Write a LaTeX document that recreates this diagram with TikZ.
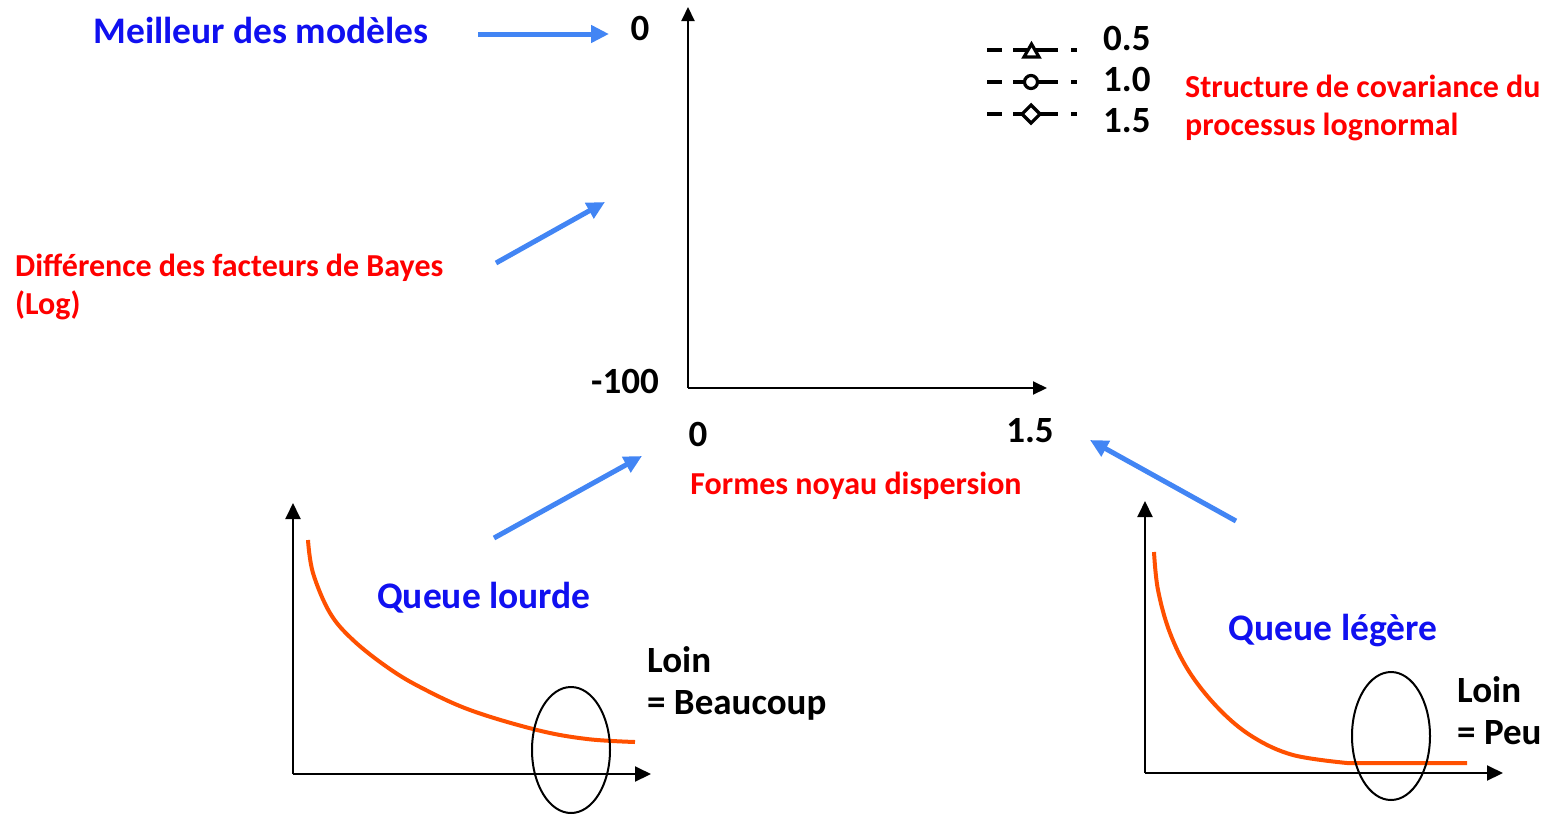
\documentclass[tikz,border=0pt]{standalone}
\usepackage{fontspec}
\setmainfont{Carlito}
\usetikzlibrary{arrows.meta}
\definecolor{txtblue}{RGB}{16,16,240}
\definecolor{arrblue}{RGB}{66,133,244}
\definecolor{txtred}{RGB}{255,0,0}
\definecolor{curveorange}{RGB}{255,80,0}
\tikzset{
  bigtxt/.style={font=\fontsize{37.5}{40}\selectfont\bfseries, inner sep=0pt},
  redtxt/.style={font=\fontsize{32}{37.5}\selectfont\bfseries, text=txtred, inner sep=0pt, align=left},
  numtxt/.style={font=\fontsize{37}{42}\selectfont\bfseries, inner sep=0pt},
  bluearrow/.style={draw=arrblue, line width=5pt, -{Triangle[length=18pt,width=17pt]}},
  axis/.style={draw=black, line width=2pt, -{Triangle[length=14pt,width=13pt]}},
  curve/.style={draw=curveorange, line width=4pt},
  ring/.style={draw=black, line width=2pt},
  legline/.style={draw=black, line width=3.5pt},
  legmark/.style={draw=black, line width=3.2pt, fill=white}
}
\begin{document}
\begin{tikzpicture}[x=1pt,y=-1pt]
\useasboundingbox (0,0) rectangle (1548,815);

% top labels
\node[bigtxt, text=txtblue] (best) at (261,30) {Meilleur des modèles};
\coordinate (bestA) at (478,34);
\coordinate (bestB) at (609,34);
\draw[bluearrow] (bestA) -- (bestB);
\node[numtxt] (y0) at (640,28) {0};
\node[numtxt] (ym100) at (625,381) {-100};
\node[numtxt] (x0) at (698,434) {0};
\node[numtxt] (x15) at (1030,431) {1.5};

% main axes
\coordinate (O) at (688,388);
\coordinate (Ytop) at (688,7);
\coordinate (Xend) at (1047,388);
\draw[axis] (O) -- (Ytop);
\draw[axis] (O) -- (Xend);

\node[redtxt, anchor=center] (xlab) at (856,486) {Formes noyau dispersion};
\node[redtxt, anchor=west] (ylab) at (15,287) {Différence des facteurs de Bayes\\(Log)};
\coordinate (ylA) at (496,263);
\coordinate (ylB) at (605,202);
\draw[bluearrow] (ylA) -- (ylB);

% legend
\foreach \yy/\lab/\ly/\nm in {50/0.5/38/a, 82/1.0/79/b, 114/1.5/121/c}{
  \draw[legline] (987,\yy) -- (1002,\yy);
  \draw[legline] (1013,\yy) -- (1058,\yy);
  \draw[legline] (1071,\yy) -- (1077,\yy);
  \node[numtxt, anchor=west] (leg\nm) at (1103,\ly) {\lab};
}
\draw[legmark] (1024,57) -- (1039,57) -- (1031.5,44) -- cycle;
\draw[legmark] (1031,82) circle (6.5pt);
\draw[legmark] (1031,105) -- (1040,114) -- (1031,123) -- (1022,114) -- cycle;
\node[redtxt, anchor=west] (struct) at (1185,108) {Structure de covariance du\\processus lognormal};

% arrows from bottom plots
\coordinate (lA) at (494,538);
\coordinate (lB) at (642,456);
\draw[bluearrow] (lA) -- (lB);
\coordinate (rA) at (1236,521);
\coordinate (rB) at (1090,440);
\draw[bluearrow] (rA) -- (rB);

% left small plot
\coordinate (LO) at (293,774);
\coordinate (LY) at (293,503);
\coordinate (LX) at (651,774);
\draw[axis, -{Triangle[length=16pt,width=15pt]}] (LO) -- (LY);
\draw[axis, -{Triangle[length=16pt,width=15pt]}] (LO) -- (LX);
\draw[curve] plot[smooth, tension=0.6] coordinates {(308,540) (313,573) (330,613) (353,640) (387,667) (420,687) (470,710) (537,730) (587,739) (635,742)};
\draw[ring] (571,750) ellipse (39pt and 63pt);
\node[bigtxt, text=txtblue] (heavy) at (484,598) {Queue lourde};
\node[numtxt, anchor=west, align=left] (loinL) at (647,683) {Loin\\= Beaucoup};

% right small plot
\coordinate (RO) at (1145,773);
\coordinate (RY) at (1145,501);
\coordinate (RX) at (1503,773);
\draw[axis, -{Triangle[length=16pt,width=15pt]}] (RO) -- (RY);
\draw[axis, -{Triangle[length=16pt,width=15pt]}] (RO) -- (RX);
\draw[curve] plot[smooth, tension=0.6] coordinates {(1154,552) (1158,590) (1170,633) (1190,673) (1220,710) (1253,737) (1293,755) (1347,763)} -- (1467,763);
\draw[ring] (1391,736) ellipse (39pt and 64pt);
\node[bigtxt, text=txtblue] (light) at (1333,631) {Queue légère};
\node[numtxt, anchor=west, align=left] (loinR) at (1457,711) {Loin\\= Peu};
\end{tikzpicture}
\end{document}
